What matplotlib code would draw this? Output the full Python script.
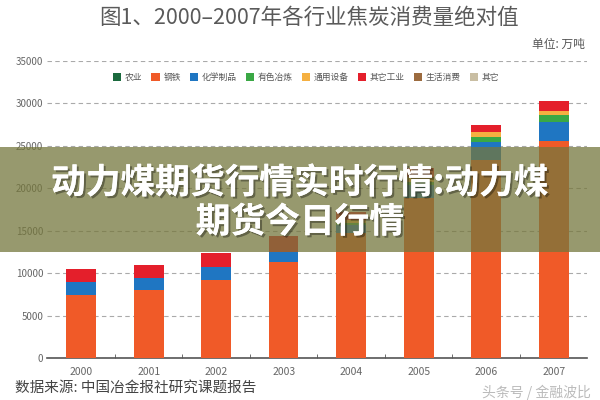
import matplotlib
matplotlib.use("Agg")
import matplotlib.pyplot as plt
import matplotlib.patheffects as pe
from matplotlib.patches import Patch, Rectangle
import numpy as np

plt.rcParams['font.family'] = ['Noto Sans CJK SC', 'DejaVu Sans']

years = ['2000', '2001', '2002', '2003', '2004', '2005', '2006', '2007']
series_names = ['农业', '钢铁', '化学制品', '有色冶炼', '通用设备', '其它工业', '生活消费', '其它']
colors = ['#1b6a3e', '#f05a28', '#1f76c2', '#3aa845', '#f5b041', '#e41f2b', '#9c6b3f', '#c9bea3']

# 万吨
agri      = [0, 0, 0, 0, 0, 0, 0, 0]
steel     = [7470, 8060, 9240, 11390, 14750, 18850, 23350, 25620]
chemical  = [1490, 1370, 1490, 1180, 950, 1500, 2150, 2240]
nonferrous = [0, 0, 0, 0, 250, 450, 590, 790]
equipment = [0, 0, 0, 0, 300, 590, 590, 390]
other_ind = [1570, 1570, 1650, 1840, 1000, 1020, 770, 1250]
living    = [0, 0, 0, 0, 0, 0, 0, 0]
others    = [0, 0, 0, 0, 0, 0, 0, 0]
stack = [agri, steel, chemical, nonferrous, equipment, other_ind, living, others]

fig = plt.figure(figsize=(6, 4), dpi=100)
ax = fig.add_axes([0.079, 0.104, 0.9, 0.744])

x = np.arange(len(years))
bottom = np.zeros(len(years))
for vals, c in zip(stack, colors):
    ax.bar(x, vals, width=0.44, bottom=bottom, color=c, zorder=3)
    bottom += np.array(vals)

ax.set_xlim(-0.5, 7.5)
ax.set_ylim(0, 35000)
ax.set_yticks(range(0, 35001, 5000))
ax.set_xticks(x)
ax.set_xticklabels(years)
ax.set_xticks(np.arange(0.5, 7.5, 1), minor=True)
ax.tick_params(axis='x', which='major', length=0, labelsize=7.5, labelcolor='#666666', pad=6)
ax.tick_params(axis='x', which='minor', length=3, direction='in', color='#555555')
ax.tick_params(axis='y', length=0, labelsize=7, labelcolor='#666666', pad=3)
ax.yaxis.grid(True, linestyle=(0, (4, 3)), color='#aaaaaa', linewidth=0.8, zorder=0)
for s in ['top', 'right', 'left']:
    ax.spines[s].set_visible(False)
ax.spines['bottom'].set_color('#555555')
ax.spines['bottom'].set_linewidth(1.2)

fig.text(0.515, 0.955, '图1、2000–2007年各行业焦炭消费量绝对值', ha='center', va='center',
         fontsize=15.5, color='#5a5a5a', fontweight='light')
fig.text(0.975, 0.888, '单位: 万吨', ha='right', va='center', fontsize=8.5, color='#555555')

handles = [Patch(facecolor=c, edgecolor='none') for c in colors]
fig.legend(handles, series_names, loc='center', bbox_to_anchor=(0.51, 0.806), ncol=8,
           frameon=False, fontsize=6.3, handlelength=1.0, handleheight=1.0,
           columnspacing=1.0, handletextpad=0.4, labelcolor='#555555')

fig.text(0.025, 0.03, '数据来源: 中国冶金报社研究课题报告', ha='left', va='center',
         fontsize=10.5, color='#444444')
fig.text(0.985, 0.018, '头条号 / 金融波比', ha='right', va='center',
         fontsize=10, color='#bbbbbb')

# overlay banner
fig.patches.append(Rectangle((0, 0.37), 1, 0.2625, transform=fig.transFigure,
                             facecolor=(0.46, 0.467, 0.24), alpha=0.75,
                             edgecolor='none', zorder=10))
shadow = [pe.withSimplePatchShadow(offset=(1.5, -1.5), shadow_rgbFace='black', alpha=0.35),
          pe.Normal()]
fig.text(0.5, 0.543, '动力煤期货行情实时行情:动力煤', ha='center', va='center',
         fontsize=25, fontweight='black', color='white', zorder=11, path_effects=shadow)
fig.text(0.5, 0.445, '期货今日行情', ha='center', va='center',
         fontsize=25, fontweight='black', color='white', zorder=11, path_effects=shadow)

fig.savefig('out.png', dpi=100)
